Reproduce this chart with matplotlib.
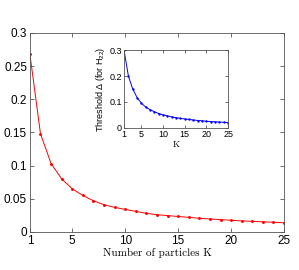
import matplotlib
matplotlib.use("Agg")
import matplotlib.pyplot as plt

K = list(range(1, 26))
delta_main = [0.268, 0.148, 0.103, 0.080, 0.065, 0.055, 0.047, 0.041, 0.037, 0.034,
              0.031, 0.028, 0.026, 0.0246, 0.0233, 0.022, 0.0206, 0.0195, 0.0185, 0.0176,
              0.0166, 0.0160, 0.0152, 0.0146, 0.0138]
delta_h22 = [0.300, 0.200, 0.150, 0.117, 0.095, 0.080, 0.070, 0.062, 0.055, 0.050,
             0.046, 0.042, 0.039, 0.036, 0.034, 0.032, 0.030, 0.028, 0.027, 0.025,
             0.024, 0.023, 0.022, 0.021, 0.020]
xticks = [1, 5, 10, 15, 20, 25]

plt.rcParams['font.family'] = ['Liberation Sans', 'DejaVu Sans']
plt.rcParams['mathtext.fontset'] = 'custom'
plt.rcParams['mathtext.rm'] = 'Liberation Sans'
plt.rcParams['mathtext.it'] = 'Liberation Sans'
edge = '#555555'

fig = plt.figure(figsize=(2.99, 2.70), dpi=100)

ax = fig.add_axes([0.100, 0.141, 0.850, 0.737])
ax.plot(K, delta_main, color='red', lw=0.7, marker='.', ms=2.2)
ax.set_xlim(1, 25)
ax.set_ylim(0, 0.3)
ax.set_xticks(xticks)
ax.set_yticks([0, 0.05, 0.1, 0.15, 0.2, 0.25, 0.3])
ax.set_yticklabels(['0', '0.05', '0.1', '0.15', '0.2', '0.25', '0.3'])
ax.tick_params(direction='in', top=True, right=True, labelsize=8.5, length=3,
               width=0.6, color=edge, pad=2)
ax.set_xlabel('Number of particles K', family='cmr10', fontsize=8, labelpad=1)
for s in ax.spines.values():
    s.set_color(edge)
    s.set_linewidth(0.6)

ins = fig.add_axes([0.415, 0.527, 0.348, 0.286])
ins.plot(K, delta_h22, color='blue', lw=0.7, marker='.', ms=1.4)
ins.set_xlim(1, 25)
ins.set_ylim(0, 0.3)
ins.set_xticks(xticks)
ins.set_yticks([0, 0.1, 0.2, 0.3])
ins.set_yticklabels(['0', '0.1', '0.2', '0.3'])
ins.tick_params(direction='in', top=True, right=True, labelsize=6.5, length=2,
                width=0.6, color=edge, pad=1.5)
ins.set_xlabel('K', family='cmr10', fontsize=6.5, labelpad=1)
ins.set_ylabel(r'Threshold $\Delta$ (for H$_{22}$)', fontsize=6.5, labelpad=2)
for s in ins.spines.values():
    s.set_color(edge)
    s.set_linewidth(0.6)

fig.savefig('out.png', dpi=100)
